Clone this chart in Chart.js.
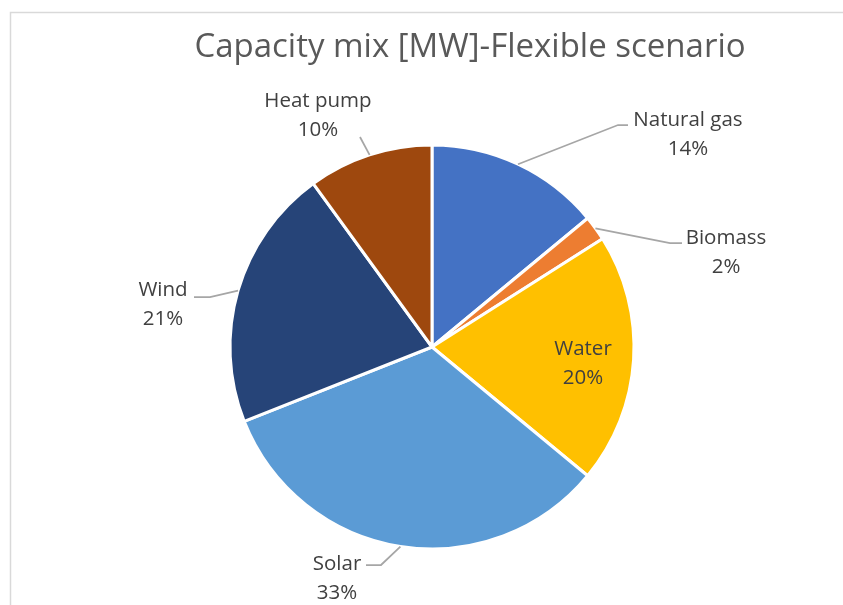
<!DOCTYPE html>
<html>
<head>
<meta charset="utf-8">
<script src="https://cdn.jsdelivr.net/npm/chart.js@4/dist/chart.umd.min.js"></script>
<style>
  html, body { margin: 0; padding: 0; background: #ffffff; }
  #wrap { width: 843px; height: 605px; position: relative; }
</style>
</head>
<body>
<div id="wrap"><canvas id="chart" width="843" height="605"></canvas></div>
<script>
// Installed capacity by source, share of total [%]
const sources = ['Natural gas', 'Biomass', 'Water', 'Solar', 'Wind', 'Heat pump'];
const shares = [14, 2, 20, 33, 21, 10];
const sliceColors = ['#4472C4', '#ED7D31', '#FFC000', '#5B9BD5', '#264478', '#9E480E'];
const chartTitle = 'Capacity mix [MW]-Flexible scenario';

// Label placement relative to the pie centre (px): text centre of the first line,
// optional leader elbow and end point.
const labelLayout = [
  { tx: 256, ty: -227, elbow: [186, -222], end: [196, -222] },
  { tx: 294, ty: -109, elbow: [238, -104], end: [250, -104] },
  { tx: 151, ty: 2 },
  { tx: -95, ty: 217, elbow: [-51, 218], end: [-66, 218] },
  { tx: -269, ty: -57, elbow: [-222, -50], end: [-238, -50] },
  { tx: -114, ty: -246, elbow: [-72, -210] }
];

const LABEL_FONT = '20.5px "Open Sans", sans-serif';
const LINE_GAP = 29;

const framePlugin = {
  id: 'frame',
  beforeDraw(chart) {
    const ctx = chart.ctx;
    ctx.save();
    ctx.strokeStyle = '#d9d9d9';
    ctx.lineWidth = 1.5;
    ctx.beginPath();
    ctx.moveTo(10.5, chart.height);
    ctx.lineTo(10.5, 12.5);
    ctx.lineTo(chart.width, 12.5);
    ctx.stroke();
    // title
    ctx.fillStyle = '#595959';
    ctx.font = '33px "Open Sans", sans-serif';
    ctx.textAlign = 'center';
    ctx.textBaseline = 'middle';
    ctx.fillText(chartTitle, 470, 48);
    ctx.restore();
  }
};

const labelPlugin = {
  id: 'sliceLabels',
  afterDatasetsDraw(chart) {
    const ctx = chart.ctx;
    const meta = chart.getDatasetMeta(0);
    const total = shares.reduce((a, b) => a + b, 0);
    ctx.save();
    meta.data.forEach((arc, i) => {
      const p = arc.getProps(['x', 'y', 'startAngle', 'endAngle', 'outerRadius'], true);
      const lay = labelLayout[i];
      const mid = (p.startAngle + p.endAngle) / 2;
      if (lay.elbow) {
        const sx = p.x + Math.cos(mid) * p.outerRadius;
        const sy = p.y + Math.sin(mid) * p.outerRadius;
        ctx.strokeStyle = '#a6a6a6';
        ctx.lineWidth = 1.75;
        ctx.beginPath();
        ctx.moveTo(sx, sy);
        ctx.lineTo(p.x + lay.elbow[0], p.y + lay.elbow[1]);
        if (lay.end) ctx.lineTo(p.x + lay.end[0], p.y + lay.end[1]);
        ctx.stroke();
      }
      const pct = Math.round(shares[i] / total * 100) + '%';
      ctx.fillStyle = '#404040';
      ctx.font = LABEL_FONT;
      ctx.textAlign = 'center';
      ctx.textBaseline = 'middle';
      ctx.fillText(sources[i], p.x + lay.tx, p.y + lay.ty);
      ctx.fillText(pct, p.x + lay.tx, p.y + lay.ty + LINE_GAP);
    });
    ctx.restore();
  }
};

new Chart(document.getElementById('chart'), {
  type: 'pie',
  data: {
    labels: sources,
    datasets: [{
      data: shares,
      backgroundColor: sliceColors,
      borderColor: '#ffffff',
      borderWidth: 3
    }]
  },
  options: {
    responsive: false,
    animation: false,
    layout: { padding: { left: 228.5, right: 207.5, top: 143.5, bottom: 54.5 } },
    plugins: {
      legend: { display: false },
      title: { display: false },
      tooltip: { enabled: false }
    }
  },
  plugins: [framePlugin, labelPlugin]
});
</script>
</body>
</html>
